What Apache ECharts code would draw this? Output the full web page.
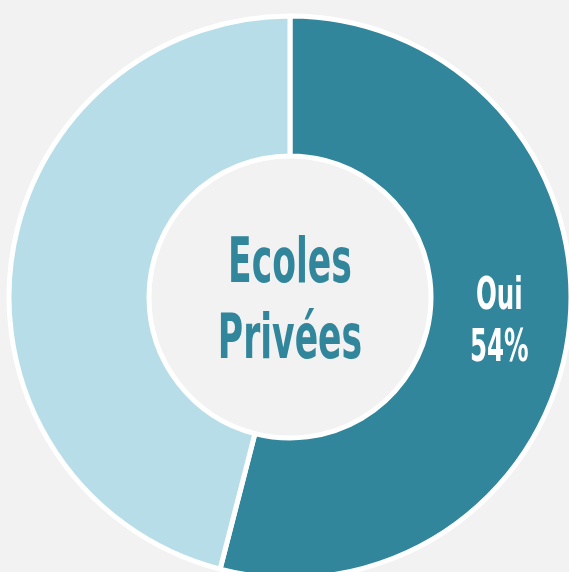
<!DOCTYPE html>
<html>
<head>
<meta charset="utf-8">
<script src="https://cdn.jsdelivr.net/npm/echarts@6/dist/echarts.min.js"></script>
<style>
  html, body { margin: 0; padding: 0; background: #f2f2f2; }
  #main { width: 569px; height: 572px; }
</style>
</head>
<body>
<div id="main"></div>
<script>
// données du graphique
var categories = ['Oui', 'Non'];
var values = [54, 46];
var sliceColors = ['#31869b', '#b7dee8'];
var centerTitle = ['Ecoles', 'Privées'];

var FONT = '"DejaVu Sans Condensed", "DejaVu Sans", sans-serif';
var CX = 290, CY = 297, R_IN = 141, R_OUT = 281;

var myChart = echarts.init(document.getElementById('main'));

// position du libellé "Oui" : milieu de la part, au rayon moyen
var total = values.reduce(function (a, b) { return a + b; }, 0);
var midDeg = 90 - (values[0] / 2) / total * 360;
var midRad = midDeg * Math.PI / 180;
var rMid = (R_IN + R_OUT) / 2;
var labelX = CX + rMid * Math.cos(midRad);
var labelY = CY - rMid * Math.sin(midRad);

var option = {
    backgroundColor: '#f2f2f2',
    animation: false,
    graphic: [{
        type: 'text',
        x: CX,
        y: 304,
        scaleX: 0.62,
        silent: true,
        style: {
            text: centerTitle.join('\n'),
            fill: '#31869b',
            font: 'bold 62px ' + FONT,
            lineHeight: 76,
            align: 'center',
            verticalAlign: 'middle'
        }
    }, {
        type: 'text',
        x: labelX,
        y: labelY,
        scaleX: 0.62,
        silent: true,
        z: 10,
        style: {
            text: categories[0] + '\n' + values[0] + '%',
            fill: '#ffffff',
            font: 'bold 44px ' + FONT,
            lineHeight: 52,
            align: 'center',
            verticalAlign: 'middle'
        }
    }],
    series: [{
        type: 'pie',
        center: [CX, CY],
        radius: [R_IN, R_OUT],
        startAngle: 90,
        clockwise: true,
        silent: true,
        itemStyle: {
            borderColor: '#ffffff',
            borderWidth: 5
        },
        label: { show: false },
        labelLine: { show: false },
        data: categories.map(function (c, i) {
            return {
                name: c,
                value: values[i],
                itemStyle: { color: sliceColors[i] }
            };
        })
    }]
};

myChart.setOption(option);
window.onresize = myChart.resize;
</script>
</body>
</html>
